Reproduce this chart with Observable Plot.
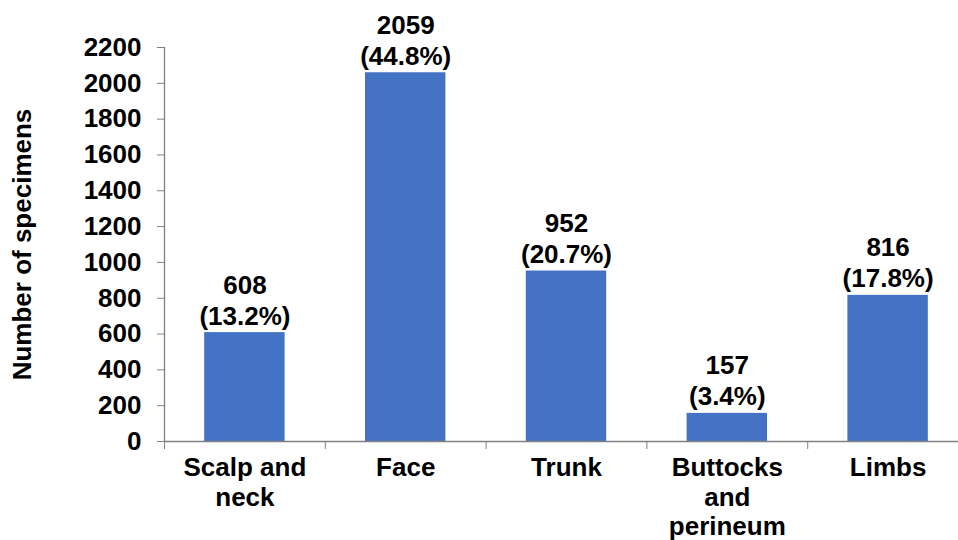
<!DOCTYPE html>
<html>
<head>
<meta charset="utf-8">
<script src="https://cdn.jsdelivr.net/npm/d3@7"></script>
<script src="https://cdn.jsdelivr.net/npm/@observablehq/plot@0.6"></script>
<style>
  html, body { margin: 0; padding: 0; background: #fff; overflow: hidden; }
  #chart svg { display: block; }
</style>
</head>
<body>
<div id="chart"></div>
<script>
const categories = ["Scalp and\nneck", "Face", "Trunk", "Buttocks\nand\nperineum", "Limbs"];
const counts = [608, 2059, 952, 157, 816];
const percents = ["13.2%", "44.8%", "20.7%", "3.4%", "17.8%"];
const yTicks = [0, 200, 400, 600, 800, 1000, 1200, 1400, 1600, 1800, 2000, 2200];

const data = categories.map((c, i) => ({i, category: c, count: counts[i], pct: percents[i]}));
const boundaries = d3.range(categories.length + 1);
const axisColor = "#808080";
const font = "'Liberation Sans', Arial, sans-serif";

const chart = Plot.plot({
  width: 958,
  height: 540,
  marginLeft: 164,
  marginRight: -10,
  marginTop: 47,
  marginBottom: 99,
  style: {fontFamily: font, fontWeight: "bold", fontSize: "26px", color: "#000", background: "#fff"},
  x: {domain: [0, categories.length]},
  y: {domain: [0, 2200]},
  marks: [
    Plot.rectY(data, {x1: d => d.i + 0.25, x2: d => d.i + 0.75, y: "count", fill: "#4472C4"}),
    Plot.ruleX([0], {y1: 0, y2: 2200, stroke: axisColor, strokeWidth: 1.3}),
    Plot.ruleY([0], {stroke: axisColor, strokeWidth: 1.3}),
    Plot.axisY({
      ticks: yTicks, tickFormat: d => String(d), tickSize: 7, tickPadding: 16, fontSize: 26, fontWeight: "bold",
      stroke: axisColor, fill: "#000",
      label: "Number of specimens", labelAnchor: "center", labelArrow: "none", labelOffset: 152
    }),
    Plot.axisX({ticks: boundaries, tickSize: 8, tickFormat: () => "", stroke: axisColor, label: null}),
    Plot.text(data, {
      x: d => d.i + 0.5, y: 0, text: "category", lineAnchor: "top", dy: 14,
      lineHeight: 1.13, fontSize: 26, fontWeight: "bold", fill: "#000"
    }),
    Plot.text(data, {
      x: d => d.i + 0.5, y: "count", text: d => `${d.count}\n(${d.pct})`, lineAnchor: "bottom", dy: -8,
      lineHeight: 1.19, fontSize: 26, fontWeight: "bold", fill: "#000"
    })
  ]
});
document.getElementById("chart").appendChild(chart);
</script>
</body>
</html>
